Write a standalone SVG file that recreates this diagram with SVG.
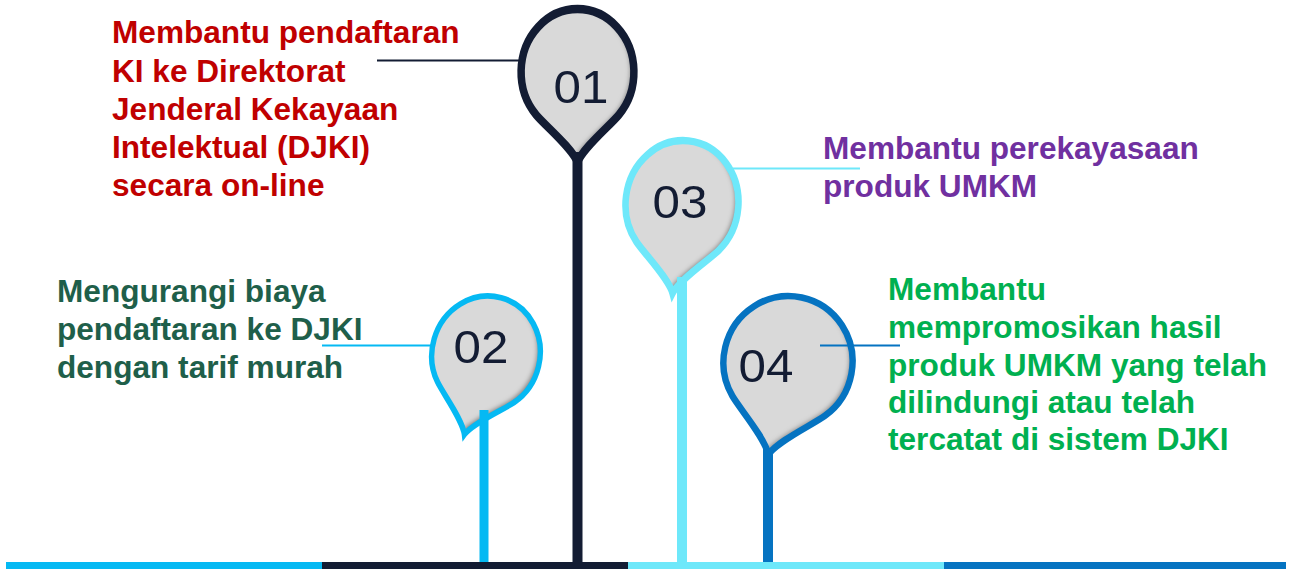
<svg xmlns="http://www.w3.org/2000/svg" width="1293" height="569" viewBox="0 0 1293 569">
<style>
.fill{fill:#D9D9D9}
.rim{fill:none;stroke-linejoin:miter;vector-effect:non-scaling-stroke}
.num{font-family:"Liberation Sans",Arial,sans-serif;font-size:47px;fill:#131C33;text-anchor:middle}
.lbl{font-family:"Liberation Sans",Arial,sans-serif;font-size:31.6px;font-weight:bold}
.conn{stroke-width:2;fill:none}
</style>
<defs>
<path id="pin" d="M0,86 C-6,72 -34.5,51.1 -44,40.8 A60,60 0 1,1 44,40.8 C34.5,51.1 6,72 0,86 Z"/>
<filter id="inset" x="-20%" y="-20%" width="140%" height="140%">
<feComponentTransfer in="SourceAlpha" result="inv"><feFuncA type="table" tableValues="1 0"/></feComponentTransfer>
<feOffset in="inv" dx="-4" dy="-2" result="off"/>
<feGaussianBlur in="off" stdDeviation="2.2" result="blur"/>
<feFlood flood-color="#4a4a4a" flood-opacity="0.75"/>
<feComposite in2="blur" operator="in" result="sh"/>
<feComposite in="sh" in2="SourceAlpha" operator="in" result="sh2"/>
<feMerge><feMergeNode in="SourceGraphic"/><feMergeNode in="sh2"/></feMerge>
</filter>
</defs>

<g id="bottom-bar">
<rect x="6" y="562" width="316" height="7" fill="#05B9F3"/>
<rect x="322" y="562" width="306" height="7" fill="#131C33"/>
<rect x="628" y="562" width="316" height="7" fill="#6EE8FA"/>
<rect x="944" y="562" width="342" height="7" fill="#0573C1"/>
</g>

<g id="node-01">
<g transform="translate(577.5,72) scale(0.94,1.05)">
<use href="#pin" class="fill" filter="url(#inset)"/>
<use href="#pin" class="rim" stroke="#131C33" stroke-width="8"/>
</g>
<rect x="572.5" y="152" width="10" height="410" fill="#131C33"/>
<text class="num" transform="translate(581,103) scale(1.05,1)">01</text>
<text class="lbl" fill="#C00000" x="112" y="43">Membantu pendaftaran</text>
<text class="lbl" fill="#C00000" x="112" y="81.5">KI ke Direktorat</text>
<text class="lbl" fill="#C00000" x="112" y="120">Jenderal Kekayaan</text>
<text class="lbl" fill="#C00000" x="112" y="158">Intelektual (DJKI)</text>
<text class="lbl" fill="#C00000" x="112" y="196">secara on-line</text>
</g>

<g id="node-02">
<g transform="translate(486,354) rotate(15) scale(0.9,0.97)">
<use href="#pin" class="fill" filter="url(#inset)"/>
<use href="#pin" class="rim" stroke="#05B9F3" stroke-width="6"/>
</g>
<rect x="479.5" y="410" width="9" height="152" fill="#05B9F3"/>
<text class="num" transform="translate(481,363) scale(1.05,1)">02</text>
<text class="lbl" fill="#1F5F4A" x="57" y="302">Mengurangi biaya</text>
<text class="lbl" fill="#1F5F4A" x="57" y="340">pendaftaran ke DJKI</text>
<text class="lbl" fill="#1F5F4A" x="57" y="378">dengan tarif murah</text>
</g>

<g id="node-03">
<g transform="translate(682,203.5) rotate(6) scale(0.94,1.05)">
<use href="#pin" class="fill" filter="url(#inset)"/>
<use href="#pin" class="rim" stroke="#6EE8FA" stroke-width="7"/>
</g>
<rect x="677" y="277" width="10" height="285" fill="#6EE8FA"/>
<text class="num" transform="translate(680,218) scale(1.05,1)">03</text>
<text class="lbl" fill="#7030A0" x="823" y="159">Membantu perekayasaan</text>
<text class="lbl" fill="#7030A0" x="823" y="197">produk UMKM</text>
</g>

<g id="node-04">
<g transform="translate(788,362) rotate(12) scale(1.075,1.1)">
<use href="#pin" class="fill" filter="url(#inset)"/>
<use href="#pin" class="rim" stroke="#0573C1" stroke-width="6"/>
</g>
<rect x="763" y="448" width="10" height="114" fill="#0573C1"/>
<text class="num" transform="translate(766,382) scale(1.05,1)">04</text>
<text class="lbl" fill="#00B050" x="888" y="300">Membantu</text>
<text class="lbl" fill="#00B050" x="888" y="338">mempromosikan hasil</text>
<text class="lbl" fill="#00B050" x="888" y="376">produk UMKM yang telah</text>
<text class="lbl" fill="#00B050" x="888" y="413">dilindungi atau telah</text>
<text class="lbl" fill="#00B050" x="888" y="450">tercatat di sistem DJKI</text>
</g>

<g id="connectors">
<line class="conn" x1="377" y1="60.5" x2="519" y2="60.5" stroke="#131C33"/>
<line class="conn" x1="322" y1="345.5" x2="434" y2="345.5" stroke="#05B9F3"/>
<line class="conn" x1="733" y1="168.5" x2="860" y2="168.5" stroke="#6EE8FA"/>
<line class="conn" x1="820" y1="345.5" x2="900" y2="345.5" stroke="#0573C1"/>
</g>
</svg>
